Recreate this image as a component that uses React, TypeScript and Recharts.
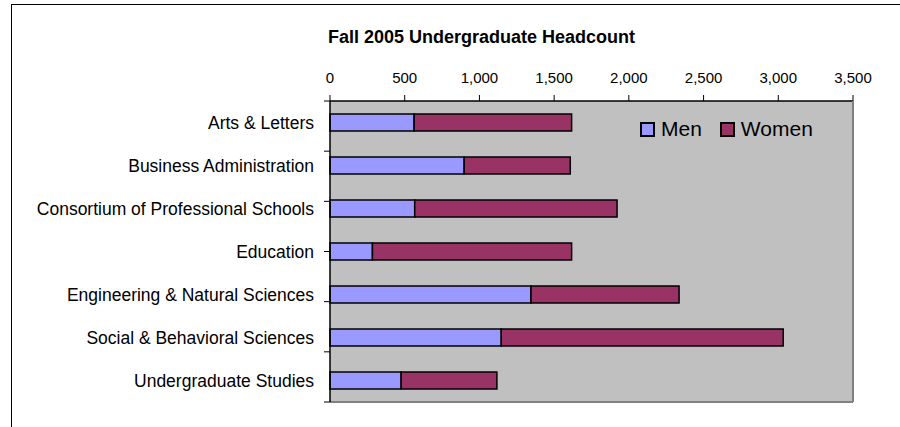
import { BarChart, Bar, XAxis, YAxis, CartesianGrid, Legend } from "recharts";

const colleges = [
  "Arts & Letters",
  "Business Administration",
  "Consortium of Professional Schools",
  "Education",
  "Engineering & Natural Sciences",
  "Social & Behavioral Sciences",
  "Undergraduate Studies",
];
const men = [563, 898, 567, 284, 1345, 1146, 476];
const women = [1054, 710, 1354, 1333, 991, 1887, 641];
const xTicks = [0, 500, 1000, 1500, 2000, 2500, 3000, 3500];
const boundaryTicks = [0, 1, 2, 3, 4, 5, 6, 7];

const FONT = '"Liberation Sans", Arial, sans-serif';

const data = colleges.map((college, i) => ({ college, Men: men[i], Women: women[i] }));

function HeadcountLegend({ payload }: any) {
  return (
    <div style={{ display: "flex", alignItems: "center", fontFamily: FONT }}>
      {(payload ?? []).map((entry: any) => (
        <span key={entry.value} style={{ display: "flex", alignItems: "center", marginRight: 18 }}>
          <span
            style={{
              width: 11,
              height: 11,
              border: "2px solid #000",
              background: entry.color,
              marginRight: 6,
            }}
          />
          <span style={{ fontSize: 21, color: "#000" }}>{entry.value}</span>
        </span>
      ))}
    </div>
  );
}

// boundary ticks between categories: draw only the tick line, no label
const NoLabel = () => <g />;

export default function App() {
  return (
    <div
      style={{
        position: "absolute",
        left: 0,
        top: 0,
        width: 900,
        height: 427,
        overflow: "hidden",
        background: "#fff",
        fontFamily: FONT,
      }}
    >
      <div
        style={{
          position: "absolute",
          left: 11,
          top: 4,
          width: 1000,
          height: 1000,
          border: "1px solid #000",
        }}
      />
      <div
        style={{
          position: "absolute",
          left: 328,
          top: 28,
          fontSize: 18,
          lineHeight: "18px",
          fontWeight: "bold",
          whiteSpace: "nowrap",
          color: "#000",
        }}
      >
        Fall 2005 Undergraduate Headcount
      </div>
      <div style={{ position: "absolute", left: 0, top: 0 }}>
        <BarChart
          width={900}
          height={427}
          data={data}
          layout="vertical"
          margin={{ top: 71, right: 46, bottom: 24, left: 0 }}
        >
          <CartesianGrid
            xAxisId="top"
            yAxisId="cat"
            fill="#C0C0C0"
            fillOpacity={1}
            horizontal={false}
            vertical={false}
          />
          <XAxis
            xAxisId="top"
            orientation="top"
            type="number"
            domain={[0, 3500]}
            ticks={xTicks}
            interval={0}
            height={30}
            tickSize={6}
            tickMargin={12}
            tickFormatter={(v) => Number(v).toLocaleString("en-US")}
            tick={{ fontSize: 15, fill: "#000", fontFamily: FONT }}
            axisLine={{ stroke: "#000", strokeWidth: 1.5 }}
            tickLine={{ stroke: "#000" }}
          />
          <XAxis
            xAxisId="edge"
            orientation="bottom"
            type="number"
            domain={[0, 3500]}
            height={1}
            tick={false}
            tickLine={false}
            axisLine={{ stroke: "#808080", strokeWidth: 2 }}
          />
          <YAxis
            yAxisId="bounds"
            type="number"
            domain={[0, 7]}
            ticks={boundaryTicks}
            interval={0}
            width={1}
            tick={NoLabel}
            tickSize={6}
            axisLine={{ stroke: "#000", strokeWidth: 1.5 }}
            tickLine={{ stroke: "#000" }}
          />
          <YAxis
            yAxisId="cat"
            type="category"
            dataKey="college"
            width={329}
            interval={0}
            tickLine={false}
            axisLine={false}
            tickSize={6}
            tickMargin={9}
            tick={{ fontSize: 17.5, fill: "#000", fontFamily: FONT }}
          />
          <YAxis
            yAxisId="edge"
            orientation="right"
            type="number"
            width={1}
            tick={false}
            tickLine={false}
            axisLine={{ stroke: "#808080", strokeWidth: 2 }}
          />
          <Legend
            layout="horizontal"
            verticalAlign="middle"
            align="center"
            wrapperStyle={{ left: 640, top: 117, width: "auto" }}
            content={<HeadcountLegend />}
          />
          <Bar
            xAxisId="top"
            yAxisId="cat"
            dataKey="Men"
            stackId="a"
            fill="#9999FF"
            stroke="#000"
            strokeWidth={1.5}
            barSize={17}
            isAnimationActive={false}
          />
          <Bar
            xAxisId="top"
            yAxisId="cat"
            dataKey="Women"
            stackId="a"
            fill="#993366"
            stroke="#000"
            strokeWidth={1.5}
            barSize={17}
            isAnimationActive={false}
          />
        </BarChart>
      </div>
    </div>
  );
}
